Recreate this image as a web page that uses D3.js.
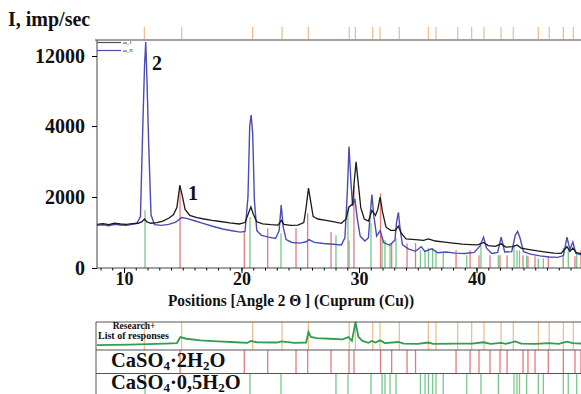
<!DOCTYPE html>
<html>
<head>
<meta charset="utf-8">
<script src="https://cdn.jsdelivr.net/npm/d3@7"></script>
<style>
  body { margin: 0; background: #fff; }
  svg { display: block; }
  text { font-family: "Liberation Serif", "DejaVu Serif", serif; font-weight: bold; fill: #111; }
</style>
</head>
<body>
<div id="chart"></div>
<script>
// 2θ / intensity
var yTicks = [0, 2000, 4000, 12000];
var xTicks = [10, 20, 30, 40];

var sample1 = [[7.7,1230],[8.2,1250],[8.7,1220],[9.2,1260],[9.7,1240],[10.2,1230],[10.7,1250],[11.2,1260],[11.5,1300],[11.75,1380],[11.95,1300],[12.3,1260],[12.8,1280],[13.3,1320],[13.8,1400],[14.2,1500],[14.5,1700],[14.75,2330],[14.95,2050],[15.2,1650],[15.6,1480],[16.2,1420],[16.8,1380],[17.5,1340],[18.2,1310],[19.0,1270],[19.8,1240],[20.3,1280],[20.6,1550],[20.8,1720],[21.0,1520],[21.3,1300],[21.8,1240],[22.5,1220],[23.1,1210],[23.4,1340],[23.6,1230],[24.2,1200],[24.8,1210],[25.3,1280],[25.5,1700],[25.7,2250],[25.9,1850],[26.1,1450],[26.5,1380],[27.2,1340],[27.9,1300],[28.5,1260],[28.9,1380],[29.15,1720],[29.45,1800],[29.6,2450],[29.75,2990],[29.95,2350],[30.15,1700],[30.45,1380],[30.8,1320],[31.1,1620],[31.4,1480],[31.6,1650],[31.8,2000],[32.0,1580],[32.3,1150],[32.7,1060],[33.1,1060],[33.35,1180],[33.6,980],[34.0,820],[34.8,800],[35.5,780],[35.9,820],[36.5,760],[37.3,730],[38.0,700],[38.8,670],[39.5,660],[40.1,650],[40.6,720],[41.0,630],[41.6,610],[42.1,680],[42.5,590],[43.1,600],[43.45,650],[43.8,560],[44.5,520],[45.2,480],[45.9,450],[46.6,420],[47.2,410],[47.7,600],[47.95,470],[48.2,560],[48.5,430],[49.0,400],[49.5,390]];

var sample2 = [[7.7,1200],[8.2,1220],[8.7,1190],[9.2,1230],[9.7,1210],[10.2,1200],[10.7,1230],[11.1,1260],[11.4,1450],[11.6,4000],[11.75,11000],[11.85,13600],[11.95,9500],[12.1,3500],[12.3,1500],[12.6,1220],[13.2,1200],[13.8,1230],[14.4,1290],[14.9,1420],[15.4,1390],[16.0,1330],[16.8,1250],[17.6,1170],[18.4,1100],[19.2,1050],[19.9,1010],[20.3,1030],[20.55,2000],[20.7,4000],[20.82,5250],[20.95,3800],[21.1,1900],[21.3,1050],[21.7,920],[22.3,870],[22.9,830],[23.2,1050],[23.38,1770],[23.55,1150],[23.8,800],[24.3,720],[25.0,700],[25.5,740],[25.75,800],[26.2,720],[27.0,690],[27.8,670],[28.5,650],[28.8,850],[29.0,2100],[29.15,3420],[29.3,2500],[29.45,1750],[29.65,1950],[29.85,1400],[30.1,900],[30.5,760],[30.8,850],[30.95,1500],[31.1,2070],[31.25,1500],[31.5,900],[31.8,1050],[32.1,720],[32.6,640],[33.05,780],[33.2,1300],[33.35,1570],[33.5,1100],[33.7,650],[34.2,540],[34.8,470],[35.3,600],[35.6,470],[36.2,540],[36.7,430],[37.4,450],[38.2,420],[39.0,410],[39.8,440],[40.3,620],[40.6,870],[40.85,560],[41.3,410],[41.8,440],[42.1,870],[42.4,450],[43.0,460],[43.3,920],[43.5,1030],[43.7,850],[44.0,460],[44.6,390],[45.4,340],[46.2,310],[46.9,300],[47.4,350],[47.7,870],[47.95,520],[48.2,730],[48.45,420],[49.0,360],[49.5,340]];

// reference line patterns
var dihydratePos = [14.77,20.24,22.23,24.64,25.63,27.62,29.15,29.57,31.83,32.78,34.09,34.81,38.26,39.45,40.21,41.15,42.0,42.6,43.96,44.38,44.98,46.11,47.39,48.38,48.89];
var dihydrateInt = [2330,1015,1120,1120,1540,1015,780,2330,2100,700,700,700,500,500,360,360,360,360,360,330,330,330,360,330,500];
var hemihydratePos = [11.79,20.72,23.36,28.04,29.06,31.02,31.96,32.21,32.64,33.15,35.23,35.62,35.91,36.27,36.55,37.17,39.17,40.38,41.86,43.19,43.45,43.66,44.27,45.26,45.69,47.39,47.81,48.53];
var hemihydrateInt = [1630,1440,980,920,1720,1260,870,780,700,840,500,500,560,560,500,440,360,640,360,640,500,500,360,270,270,560,500,440];
var peakList = [11.73,14.91,20.95,23.45,25.69,29.17,29.69,31.17,31.79,33.43,35.90,36.55,38.40,39.59,40.64,42.09,43.13,45.26,46.19,47.39,48.24];

// research+ row profile (0 = row bottom, 1 = row top)
var researchProfile = [[7.7,0.14],[9,0.15],[10.5,0.16],[12,0.18],[13.5,0.2],[14.5,0.22],[14.8,0.44],[15.3,0.38],[16.5,0.32],[18,0.28],[19.5,0.25],[20.5,0.23],[20.8,0.3],[21.3,0.25],[23,0.24],[23.4,0.28],[24.5,0.23],[25.5,0.24],[25.7,0.63],[25.9,0.45],[26.4,0.4],[27.5,0.38],[28.6,0.36],[29.1,0.44],[29.4,0.3],[29.7,1.0],[29.95,0.45],[30.3,0.3],[30.8,0.23],[31.1,0.3],[31.4,0.24],[31.8,0.32],[32.2,0.22],[33.35,0.26],[33.8,0.2],[35,0.19],[35.9,0.24],[36.3,0.19],[38.4,0.2],[39.6,0.2],[40.6,0.25],[41.2,0.19],[42.1,0.23],[42.5,0.19],[43.3,0.28],[43.8,0.2],[45,0.19],[46.2,0.22],[47,0.19],[47.7,0.27],[48.2,0.22],[49.5,0.19]];

var W = 581, H = 394;
var pL = 97, pR = 600, pT = 40, pB = 268;

var svg = d3.select("#chart").append("svg").attr("width", W).attr("height", H);

var x = d3.scaleLinear().domain([10, 40]).range([124, 476.5]);
// broken intensity axis: 0-4000 stretched, 4000-12000 squeezed
var y = d3.scaleLinear().domain([0, 4000, 12000]).range([pB, 126, 56]);

svg.append("clipPath").attr("id", "plotclip")
  .append("rect").attr("x", pL).attr("y", pT).attr("width", pR - pL).attr("height", pB - pT);

var plot = svg.append("g").attr("clip-path", "url(#plotclip)");

plot.selectAll(".red").data(dihydratePos).enter().append("line")
  .attr("x1", d => x(d)).attr("x2", d => x(d))
  .attr("y1", y(0)).attr("y2", (d, i) => y(dihydrateInt[i]))
  .attr("stroke", "#e8797a").attr("stroke-width", 1.3);
plot.selectAll(".green").data(hemihydratePos).enter().append("line")
  .attr("x1", d => x(d)).attr("x2", d => x(d))
  .attr("y1", y(0)).attr("y2", (d, i) => y(hemihydrateInt[i]))
  .attr("stroke", "#76c98a").attr("stroke-width", 1.3);

var line = d3.line().x(d => x(d[0])).y(d => y(d[1]));
plot.append("path").datum(sample2).attr("d", line)
  .attr("fill", "none").attr("stroke", "#4b4bb8").attr("stroke-width", 1.4);
plot.append("path").datum(sample1).attr("d", line)
  .attr("fill", "none").attr("stroke", "#1a1a1a").attr("stroke-width", 1.3);

// top peak markers
svg.selectAll(".mk").data(peakList).enter().append("line")
  .attr("x1", d => x(d)).attr("x2", d => x(d))
  .attr("y1", 27).attr("y2", 39)
  .attr("stroke", "#f0b987").attr("stroke-width", 1.2);

// frame
svg.append("line").attr("x1", pL - 2).attr("x2", W).attr("y1", pT).attr("y2", pT)
  .attr("stroke", "#444").attr("stroke-width", 1.2);

var yAxis = svg.append("g").attr("transform", "translate(" + pL + ",0)")
  .call(d3.axisLeft(y).tickValues(yTicks).tickSize(5).tickPadding(7).tickFormat(d3.format("d")));
yAxis.select(".domain").attr("d", "M0," + pT + "V" + pB).attr("stroke", "#444");
yAxis.selectAll("text").style("font-size", "20px").attr("dy", "0.34em");

var xAxis = svg.append("g").attr("transform", "translate(0," + pB + ")")
  .call(d3.axisBottom(x).tickValues(xTicks).tickSize(5).tickPadding(0));
xAxis.select(".domain").attr("d", "M" + pL + ",0H" + W).attr("stroke", "#444");
xAxis.selectAll("text").style("font-size", "18px").attr("dy", "0.68em");
svg.append("g").attr("transform", "translate(0," + pB + ")")
  .call(d3.axisBottom(x).tickValues(d3.range(8, 50)).tickSize(2.5).tickFormat(""))
  .select(".domain").remove();

svg.append("text").attr("x", 8).attr("y", 26).style("font-size", "20px").text("I, imp/sec");
svg.append("text").attr("x", 168).attr("y", 306)
  .style("font-size", "17px").attr("textLength", 246).attr("lengthAdjust", "spacingAndGlyphs")
  .text("Positions [Angle 2 \u0398 ] (Cuprum (Cu))");

svg.append("text").attr("x", 152).attr("y", 70).style("font-size", "20px").text("2");
svg.append("text").attr("x", 188).attr("y", 200).style("font-size", "20px").text("1");

// legend
var legend = [["\u0448_1", "#555", 42.5], ["\u0448_II", "#4b4bb8", 50.5]];
legend.forEach(function(l) {
  svg.append("line").attr("x1", pL).attr("x2", pL + 24).attr("y1", l[2]).attr("y2", l[2])
    .attr("stroke", l[1]).attr("stroke-width", 1.2);
  svg.append("text").attr("x", pL + 26).attr("y", l[2] + 1.5).style("font-size", "5px")
    .style("font-weight", "normal").text(l[0]);
});

// lower panel: peak list + reference patterns
var rows = [322, 350, 373.5, 400];
var pg = svg.append("g");
pg.selectAll(".r1").data(peakList).enter().append("line")
  .attr("x1", d => x(d)).attr("x2", d => x(d)).attr("y1", rows[0]).attr("y2", rows[1])
  .attr("stroke", "#f0b987").attr("stroke-width", 1.2);
pg.selectAll(".r2").data(dihydratePos).enter().append("line")
  .attr("x1", d => x(d)).attr("x2", d => x(d)).attr("y1", rows[1]).attr("y2", rows[2])
  .attr("stroke", "#e8797a").attr("stroke-width", 1.3);
pg.selectAll(".r3").data(hemihydratePos).enter().append("line")
  .attr("x1", d => x(d)).attr("x2", d => x(d)).attr("y1", rows[2]).attr("y2", rows[3])
  .attr("stroke", "#76c98a").attr("stroke-width", 1.3);

var ry = d3.scaleLinear().domain([0, 1]).range([rows[1] - 1, rows[0]]);
pg.append("path").datum(researchProfile)
  .attr("d", d3.line().x(d => x(d[0])).y(d => ry(d[1])))
  .attr("fill", "none").attr("stroke", "#2f9e4e").attr("stroke-width", 1.8);

rows.slice(0, 3).forEach(function(r) {
  pg.append("line").attr("x1", pL - 1).attr("x2", W).attr("y1", r).attr("y2", r)
    .attr("stroke", "#555").attr("stroke-width", 1);
});
pg.append("line").attr("x1", pL - 1).attr("x2", pL - 1).attr("y1", rows[0]).attr("y2", H)
  .attr("stroke", "#555").attr("stroke-width", 1);

pg.append("text").attr("x", 134).attr("y", 329).attr("text-anchor", "middle")
  .style("font-size", "9.5px").text("Research+");
pg.append("text").attr("x", 98).attr("y", 339).style("font-size", "10px").text("List of responses");

function formula(yy, parts) {
  var t = pg.append("text").attr("x", 111).attr("y", yy).style("font-size", "20.5px");
  parts.forEach(function(p) {
    var s = t.append("tspan").text(p[0]);
    if (p[1]) s.style("font-size", "13px").attr("dy", "2.5");
    else if (p[2]) s.attr("dy", "-2.5");
  });
}
formula(367, [["CaSO"], ["4", 1], ["\u00b72H", 0, 1], ["2", 1], ["O", 0, 1]]);
formula(389, [["CaSO"], ["4", 1], ["\u00b70,5H", 0, 1], ["2", 1], ["O", 0, 1]]);
</script>
</body>
</html>
